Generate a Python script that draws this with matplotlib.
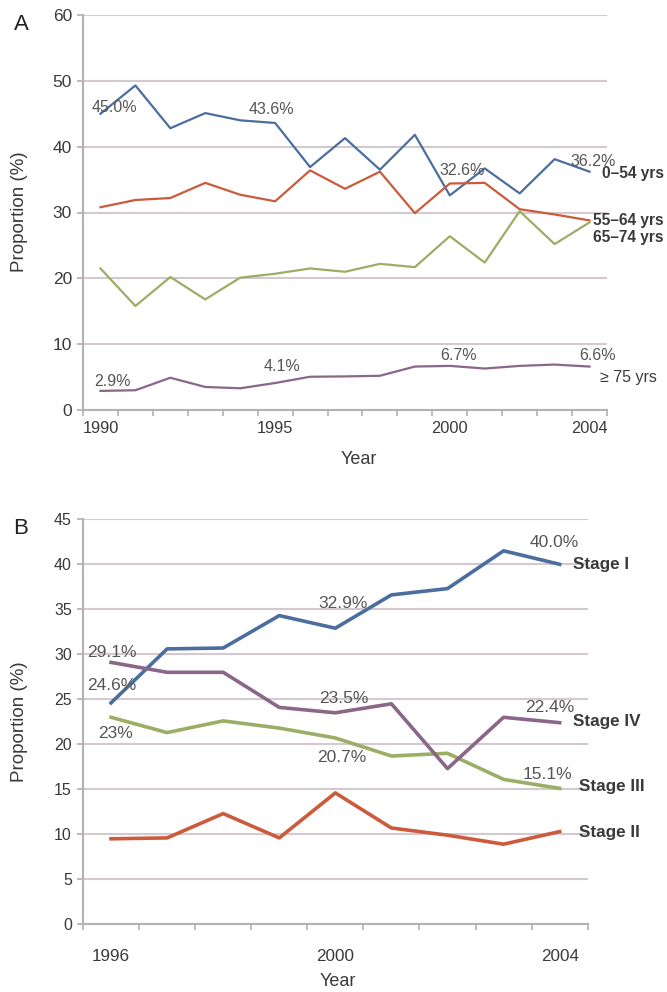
import numpy as np
import matplotlib
matplotlib.use("Agg")
import matplotlib.pyplot as plt

plt.rcParams['font.family'] = ['Liberation Sans', 'DejaVu Sans']

# Panel A: proportion by age group, 1990-2004
years_a = list(range(1990, 2005))
age_0_54 = [45.0, 49.3, 42.8, 45.1, 44.0, 43.6, 36.9, 41.3, 36.5, 41.8, 32.6, 36.7, 32.9, 38.1, 36.2]
age_55_64 = [30.8, 31.9, 32.2, 34.5, 32.7, 31.7, 36.4, 33.6, 36.2, 29.9, 34.4, 34.5, 30.5, 29.7, 28.8]
age_65_74 = [21.5, 15.8, 20.2, 16.8, 20.1, 20.7, 21.5, 21.0, 22.2, 21.7, 26.4, 22.4, 30.2, 25.2, 28.5]
age_75_up = [2.9, 3.0, 4.9, 3.5, 3.3, 4.1, 5.05, 5.1, 5.2, 6.6, 6.7, 6.3, 6.7, 6.9, 6.6]
ticklabels_a = ['1990', '1995', '2000', '2004']

# Panel B: proportion by stage, 1996-2004
years_b = list(range(1996, 2005))
stage_1 = [24.6, 30.6, 30.7, 34.3, 32.9, 36.6, 37.3, 41.5, 40.0]
stage_2 = [9.5, 9.6, 12.3, 9.6, 14.6, 10.7, 9.9, 8.9, 10.3]
stage_3 = [23.0, 21.3, 22.6, 21.8, 20.7, 18.7, 19.0, 16.1, 15.1]
stage_4 = [29.1, 28.0, 28.0, 24.1, 23.5, 24.5, 17.3, 23.0, 22.4]
ticklabels_b = ['1996', '2000', '2004']

BLUE = '#4c6e9e'
RED = '#cc5a3c'
GREEN = '#9cad66'
PURPLE = '#8a6688'
GRID = '#d3c9cf'
SPINE = '#b5b0b3'
TXT = '#3a3a3a'
PCT = '#555555'

fig = plt.figure(figsize=(6.67, 9.92), dpi=100)
W, H = 667, 992


def px_axes(left, top, right, bottom):
    return fig.add_axes([left / W, 1 - bottom / H, (right - left) / W, (bottom - top) / H])


def style(ax, n, years, labels, ylim, ystep, label_pad, xsize, ysize):
    ax.set_xlim(-0.5, n - 0.5)
    ax.set_ylim(*ylim)
    ax.set_yticks(np.arange(ylim[0], ylim[1] + 0.1, ystep))
    ax.yaxis.grid(True, color=GRID, linewidth=1.5)
    ax.set_axisbelow(True)
    for s in ['top', 'right']:
        ax.spines[s].set_visible(False)
    for s in ['left', 'bottom']:
        ax.spines[s].set_color(SPINE)
        ax.spines[s].set_linewidth(1.5)
    ax.set_xticks(np.arange(-0.5, n, 1.0))
    ax.set_xticklabels([])
    pos = [years.index(int(t)) for t in labels]
    ax.set_xticks(pos, labels, minor=True)
    ax.tick_params(axis='x', which='major', length=4, width=1.2, color=SPINE)
    ax.tick_params(axis='x', which='minor', length=0, pad=label_pad, labelsize=xsize, labelcolor=TXT)
    ax.tick_params(axis='y', length=4, width=1.2, color=SPINE, pad=4, labelsize=ysize, labelcolor=TXT)


def note(ax, x, y, text, dx, dy, **kw):
    ax.annotate(text, xy=(x, y), xytext=(dx, dy), textcoords='offset pixels',
                ha=kw.pop('ha', 'center'), va='center', **kw)


# ---- Panel A ----
ax1 = px_axes(83, 15, 607, 410)
style(ax1, len(years_a), years_a, ticklabels_a, (0, 60), 10, 8, 11.8, 12.5)
xa = np.arange(len(years_a))
ax1.plot(xa, age_0_54, color=BLUE, lw=1.6)
ax1.plot(xa, age_55_64, color=RED, lw=1.6)
ax1.plot(xa, age_65_74, color=GREEN, lw=1.6)
ax1.plot(xa, age_75_up, color=PURPLE, lw=1.6)

for i, dx, dy in [(0, 14, 6), (5, -4, 13), (10, 12, 25), (14, 4, 10)]:
    note(ax1, i, age_0_54[i], f'{age_0_54[i]:.1f}%', dx, dy, fontsize=11.5, color=PCT)
for i, dx, dy in [(0, 12, 9), (5, 7, 17), (10, 9, 10), (14, 8, 11)]:
    note(ax1, i, age_75_up[i], f'{age_75_up[i]:.1f}%', dx, dy, fontsize=11.5, color=PCT)

last = len(years_a) - 1
note(ax1, last, age_0_54[last], '0\u201354 yrs', 12, -2, ha='left', fontsize=11.2,
     fontweight='bold', color=TXT, annotation_clip=False)
note(ax1, last, age_55_64[last], '55\u201364 yrs', 3, 0, ha='left', fontsize=11.2,
     fontweight='bold', color=TXT, annotation_clip=False)
note(ax1, last, age_65_74[last], '65\u201374 yrs', 3, -15, ha='left', fontsize=11.2,
     fontweight='bold', color=TXT, annotation_clip=False)
note(ax1, last, age_75_up[last], '\u2265 75 yrs', 10, -11, ha='left', fontsize=11.5,
     color=TXT, annotation_clip=False)

fig.text(21 / W, 1 - 25 / H, 'A', fontsize=16, color='#222222', ha='center', va='center')
fig.text(20 / W, 1 - 212 / H, 'Proportion (%)', rotation=90, fontsize=13.5, color=TXT,
         ha='center', va='center')
fig.text(359 / W, 1 - 460 / H, 'Year', fontsize=13, color=TXT, ha='center', va='center')

# ---- Panel B ----
ax2 = px_axes(83, 519.3, 587.7, 924.3)
style(ax2, len(years_b), years_b, ticklabels_b, (0, 45), 5, 18, 12.3, 11.5)
xb = np.arange(len(years_b))
ax2.plot(xb, stage_1, color=BLUE, lw=2.6)
ax2.plot(xb, stage_2, color=RED, lw=2.6)
ax2.plot(xb, stage_3, color=GREEN, lw=2.6)
ax2.plot(xb, stage_4, color=PURPLE, lw=2.6)

for i, dx, dy in [(0, 1, 17), (4, 8, 25), (8, -5, 22)]:
    note(ax2, i, stage_1[i], f'{stage_1[i]:.1f}%', dx, dy, fontsize=12.5, color=PCT)
for i, dx, dy in [(0, 1, 10), (4, 8, 14), (8, -10, 15)]:
    note(ax2, i, stage_4[i], f'{stage_4[i]:.1f}%', dx, dy, fontsize=12.5, color=PCT)
note(ax2, 0, stage_3[0], f'{stage_3[0]:.0f}%', 4, -16, fontsize=12.5, color=PCT)
for i, dx, dy in [(4, 6, -20), (8, -12, 14)]:
    note(ax2, i, stage_3[i], f'{stage_3[i]:.1f}%', dx, dy, fontsize=12.5, color=PCT)

lb = len(years_b) - 1
note(ax2, lb, stage_1[lb], 'Stage I', 13, 0, ha='left', fontsize=12.3,
     fontweight='bold', color=TXT, annotation_clip=False)
note(ax2, lb, stage_4[lb], 'Stage IV', 13, 1, ha='left', fontsize=12.3,
     fontweight='bold', color=TXT, annotation_clip=False)
note(ax2, lb, stage_3[lb], 'Stage III', 19, 2, ha='left', fontsize=12.3,
     fontweight='bold', color=TXT, annotation_clip=False)
note(ax2, lb, stage_2[lb], 'Stage II', 19, -1, ha='left', fontsize=12.3,
     fontweight='bold', color=TXT, annotation_clip=False)

fig.text(21 / W, 1 - 528 / H, 'B', fontsize=16, color='#222222', ha='center', va='center')
fig.text(20 / W, 1 - 722 / H, 'Proportion (%)', rotation=90, fontsize=13.5, color=TXT,
         ha='center', va='center')
fig.text(338 / W, 1 - 982 / H, 'Year', fontsize=13, color=TXT, ha='center', va='center')

fig.savefig('out.png', dpi=100)
